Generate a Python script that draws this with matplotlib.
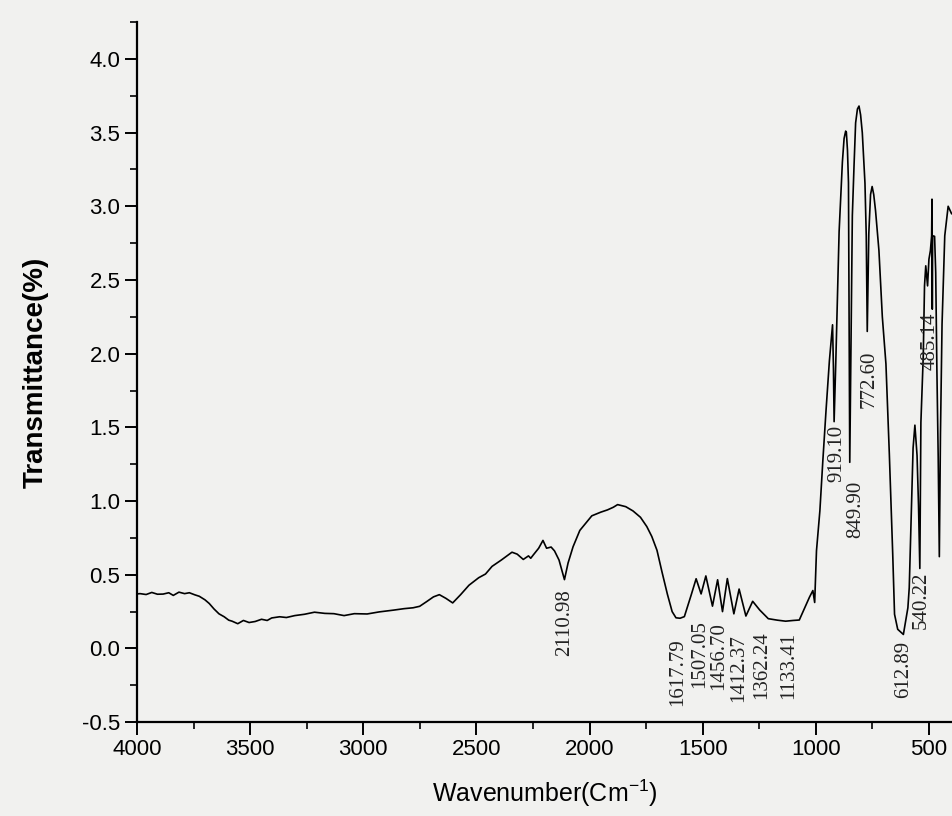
import numpy as np
import matplotlib.pyplot as plt
from matplotlib.ticker import MultipleLocator

# FTIR spectrum, values
wavenumber = [4000, 3987, 3960, 3935, 3910, 3885, 3860, 3840, 3815, 3790, 3769, 3745, 3725, 3700,
              3681, 3660, 3638, 3615, 3595, 3580, 3555, 3530, 3505, 3478, 3450, 3425, 3405, 3370,
              3340, 3303, 3260, 3216, 3170, 3130, 3085, 3040, 2983, 2930, 2867, 2820, 2780, 2751,
              2720, 2690, 2664, 2635, 2605, 2570, 2533, 2490, 2460, 2431, 2390, 2343, 2320, 2293,
              2270, 2260, 2249, 2225, 2206, 2190, 2170, 2155, 2135, 2111, 2095, 2073, 2043, 1990,
              1950, 1921, 1895, 1876, 1840, 1808, 1775, 1747, 1725, 1702, 1680, 1656, 1635, 1618,
              1600, 1581, 1551, 1529, 1507, 1486, 1456.7, 1434, 1412.4, 1391, 1362.2, 1339, 1309,
              1279, 1248, 1210, 1170, 1133.4, 1100, 1073, 1045, 1028, 1013, 1005, 997, 982, 969,
              955, 940, 926, 922, 919.1, 911.6, 897, 882.5, 875, 868, 865, 860, 855.6, 849.9,
              838.5, 831, 824, 816, 809, 802, 794.5, 782.7, 777, 772.6, 765.7, 758, 751, 744, 736,
              721, 706, 690, 675, 660, 652, 638, 612.9, 593, 587, 575, 570, 562, 552.5, 546, 540.2,
              535.5, 525, 519.5, 514, 506, 500, 493.5, 488, 486.5, 485.1, 483.6, 475, 470, 465,
              459, 454, 449, 442, 430, 415, 400]
transmittance = [0.370, 0.372, 0.366, 0.380, 0.368, 0.369, 0.378, 0.360, 0.382, 0.372, 0.378, 0.364,
                 0.354, 0.330, 0.305, 0.268, 0.235, 0.215, 0.192, 0.185, 0.168, 0.190, 0.176, 0.183,
                 0.198, 0.190, 0.207, 0.215, 0.210, 0.223, 0.232, 0.246, 0.238, 0.236, 0.223, 0.236,
                 0.234, 0.248, 0.260, 0.270, 0.276, 0.286, 0.318, 0.350, 0.365, 0.340, 0.309, 0.365,
                 0.429, 0.480, 0.505, 0.557, 0.600, 0.653, 0.640, 0.604, 0.628, 0.612, 0.634, 0.680,
                 0.733, 0.680, 0.688, 0.662, 0.600, 0.467, 0.580, 0.690, 0.801, 0.900, 0.925, 0.940,
                 0.958, 0.976, 0.962, 0.933, 0.890, 0.827, 0.760, 0.666, 0.520, 0.368, 0.250, 0.208,
                 0.205, 0.216, 0.362, 0.473, 0.370, 0.492, 0.287, 0.466, 0.250, 0.474, 0.235, 0.403,
                 0.220, 0.320, 0.261, 0.202, 0.192, 0.185, 0.190, 0.193, 0.290, 0.348, 0.393, 0.312,
                 0.663, 0.934, 1.271, 1.610, 1.950, 2.196, 1.900, 1.539, 1.946, 2.827, 3.300, 3.460,
                 3.510, 3.503, 3.380, 3.160, 1.263, 2.937, 3.277, 3.566, 3.660, 3.680, 3.620, 3.499,
                 3.157, 2.800, 2.151, 2.817, 3.080, 3.134, 3.080, 2.971, 2.700, 2.251, 1.930, 1.320,
                 0.640, 0.232, 0.130, 0.095, 0.276, 0.412, 1.090, 1.360, 1.515, 1.310, 0.970, 0.543,
                 1.533, 1.986, 2.460, 2.596, 2.460, 2.640, 2.699, 2.800, 3.048, 2.302, 2.800, 2.796,
                 2.550, 1.912, 1.300, 0.623, 1.457, 2.200, 2.800, 3.000, 2.950]

# peak labels and where their text sits
peak_labels = ["2110.98", "1617.79", "1507.05", "1456.70", "1412.37", "1362.24", "1133.41",
               "919.10", "849.90", "772.60", "612.89", "540.22", "485.14"]
label_x = [2111, 1610, 1514, 1431, 1339, 1241, 1119, 906, 824, 766, 610, 535, 495]
label_y = [0.40, 0.07, 0.19, 0.18, 0.10, 0.12, 0.11, 1.52, 1.14, 2.02, 0.05, 0.52, 2.28]

bg = '#f1f1ef'
plt.rcParams['font.family'] = 'Liberation Sans'

fig = plt.figure(figsize=(9.52, 8.16), dpi=100, facecolor=bg)
ax = fig.add_axes([0.144, 0.115, 0.856, 0.858], facecolor=bg)

ax.plot(wavenumber, transmittance, color='black', lw=1.2)

for txt, x, y in zip(peak_labels, label_x, label_y):
    ax.text(x, y, txt, rotation=90, ha='center', va='top', fontsize=15,
            family='Liberation Serif', color='#222222')

ax.set_xlim(4000, 398)
ax.set_ylim(-0.5, 4.25)
ax.xaxis.set_major_locator(MultipleLocator(500))
ax.xaxis.set_minor_locator(MultipleLocator(250))
ax.yaxis.set_major_locator(MultipleLocator(0.5))
ax.yaxis.set_minor_locator(MultipleLocator(0.25))
ax.yaxis.set_major_formatter(plt.FormatStrFormatter('%.1f'))

for s in ['top', 'right']:
    ax.spines[s].set_visible(False)
for s in ['left', 'bottom']:
    ax.spines[s].set_linewidth(1.6)
ax.tick_params(which='major', direction='out', length=9, width=1.4, labelsize=16, pad=3)
ax.tick_params(which='minor', direction='out', length=5, width=1.2)

ax.set_xlabel('Wavenumber(Cm$^{\\mathregular{-1}}$)', fontsize=18, labelpad=13)
ax.set_ylabel('Transmittance(%)', fontsize=20, fontweight='bold', labelpad=24)

fig.savefig('out.png', dpi=100, facecolor=bg)
